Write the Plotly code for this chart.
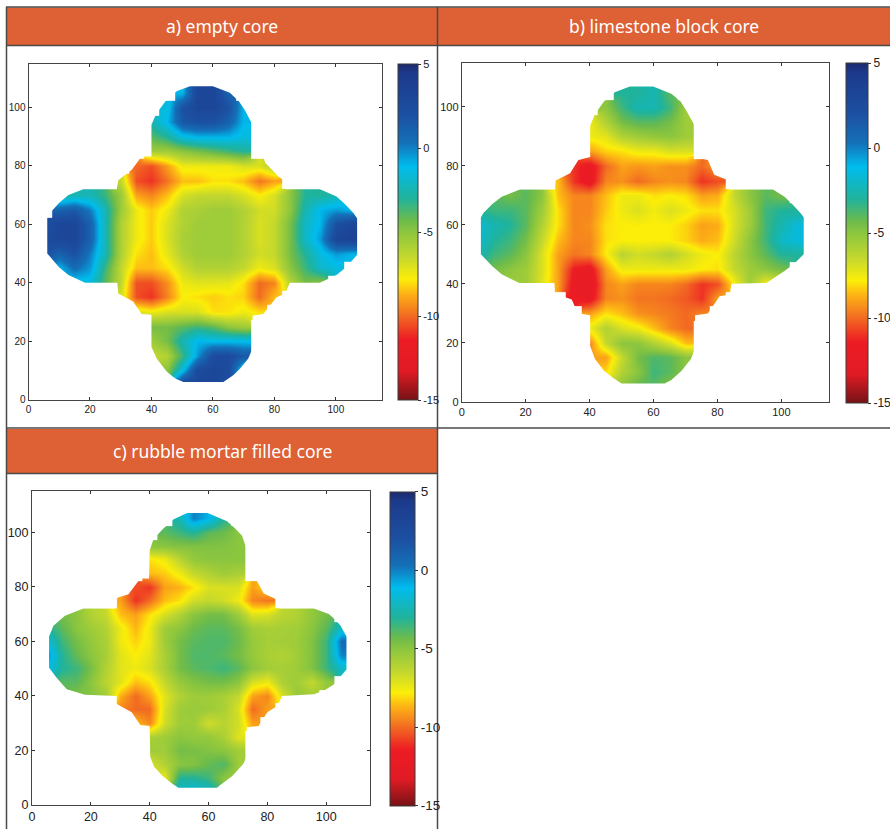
import plotly.graph_objects as go

n = None
GRID = [5, 10, 15, 20, 25, 30, 35, 40, 45, 50, 55, 60, 65, 70, 75, 80, 85, 90, 95, 100, 105, 110]
TICKS = [0, 20, 40, 60, 80, 100]
CBAR_TICKS = [5, 0, -5, -10, -15]
CBAR_TEXT = ["5", "0", "-5", "-10", "-15"]
TITLES = ["a) empty core", "b) limestone block core", "c) rubble mortar filled core"]

# rows run from y=5 up to y=110, columns from x=5 to x=110
Z_A = [
 [n,n,n,n,n,n,n,n,n,3,3,3,2,n,n,n,n,n,n,n,n,n],
 [n,n,n,n,n,n,n,n,-5,-1.5,2.5,3,2.5,-2,n,n,n,n,n,n,n,n],
 [n,n,n,n,n,n,n,-6.5,-6,-3.5,-0.5,2.5,2.5,1.5,n,n,n,n,n,n,n,n],
 [n,n,n,n,n,n,n,-5.5,-4.5,-2.5,-1,-1.2,-1.2,-1.2,n,n,n,n,n,n,n,n],
 [n,n,n,n,n,n,n,-4.5,-4.5,-4,-3.5,-4,-5,-5.5,n,n,n,n,n,n,n,n],
 [n,n,n,n,n,n,-7,-7.5,-7,-7,-7,-8,-8,-7.5,-8,n,n,n,n,n,n,n],
 [n,n,n,n,n,-7,-10.5,-11,-9.5,-7.8,-8,-8.3,-8,-8.2,-10,-8.5,n,n,n,n,n,n],
 [n,n,-1.5,-1.5,-4,-6.5,-10.5,-10.5,-9.3,-7.5,-7.2,-7.2,-7.3,-8,-10,-9.5,-6,-4.5,-5,n,n,n],
 [n,-1,0.5,-0.5,-3.5,-6.5,-8.5,-8.5,-8,-6.8,-6,-6,-6,-6.5,-7.5,-7,-5,-3.5,-2,-1.5,n,n],
 [2,1,2,0,-2.5,-6,-8,-8.5,-7.3,-6,-5.5,-5.5,-5.5,-6,-6.8,-6.5,-4.5,-3,-1.5,-0.5,-1,n],
 [2.5,3,3,1,-2.5,-6,-7.5,-8.3,-7,-5.8,-5.5,-5.5,-5.5,-6,-7,-6.5,-4.5,-2,-0.5,3,3.5,n],
 [2,3,3,1,-2.5,-6,-7.5,-8.3,-7,-6,-5.5,-5.5,-5.5,-6,-7,-6.5,-4.5,-2,-1,2,3,n],
 [n,1,1.5,0,-2.5,-5.5,-7.5,-8.3,-7.5,-6,-5.8,-5.5,-5.5,-6,-6.8,-6.8,-5,-2.5,-1,-0.5,-1,n],
 [n,-3,-2.5,-2.5,-3.5,-5.5,-9,-9.5,-8.5,-7,-6.5,-6.5,-6.5,-7,-7.8,-7,-5,-3,-3,-2.5,n,n],
 [n,n,n,n,n,-6.5,-10.5,-11,-9.8,-8.5,-8.5,-8,-8,-8.5,-9.8,-9,n,n,n,n,n,n],
 [n,n,n,n,n,n,-10,-10.5,-9,-7.5,-7.5,-7.5,-7.5,-7,-7,-6,n,n,n,n,n,n],
 [n,n,n,n,n,n,n,-5.5,-5.5,-5,-4.5,-4,-3.5,-3,n,n,n,n,n,n,n,n],
 [n,n,n,n,n,n,n,-4,-3,-1.5,-1,-1,-1,-1.5,n,n,n,n,n,n,n,n],
 [n,n,n,n,n,n,n,-2.5,-1,1.5,2,2,1,-1,n,n,n,n,n,n,n,n],
 [n,n,n,n,n,n,n,n,-1.5,2,3,3,2,-1,n,n,n,n,n,n,n,n],
 [n,n,n,n,n,n,n,n,n,-1,3,3,1,n,n,n,n,n,n,n,n,n],
 [n,n,n,n,n,n,n,n,n,n,n,n,n,n,n,n,n,n,n,n,n,n],
]
Z_B = [
 [n,n,n,n,n,n,n,n,n,-5,-4,-4,-5,n,n,n,n,n,n,n,n,n],
 [n,n,n,n,n,n,n,n,-8,-6,-5,-3.5,-4,-5,n,n,n,n,n,n,n,n],
 [n,n,n,n,n,n,n,-9,-9,-6.5,-4.5,-3.8,-4,-5,n,n,n,n,n,n,n,n],
 [n,n,n,n,n,n,n,-9.5,-6.5,-5,-5,-6,-7,-8.5,n,n,n,n,n,n,n,n],
 [n,n,n,n,n,n,n,-7.5,-6,-7,-7.5,-8.5,-9.5,-10,n,n,n,n,n,n,n,n],
 [n,n,n,n,n,n,n,-9,-8,-8.5,-9.3,-9.5,-9.7,-10,-9.5,n,n,n,n,n,n,n],
 [n,n,n,n,n,n,-11.5,-12,-9.5,-9.3,-9.8,-9.8,-10,-10.3,-11,-9,n,n,n,n,n,n],
 [n,n,-5.5,-5.5,-7.2,-9,-12,-12.5,-9.5,-9,-9.5,-9.5,-9.5,-10,-11,-10.5,-7.8,-5.5,-7.8,-7,n,n],
 [n,-4.5,-5,-5.5,-7,-9,-11.5,-12,-9,-7.5,-7.5,-7.5,-7.5,-7.5,-7.8,-8,-6.5,-5.5,-5,-4.5,n,n],
 [-2.5,-3.5,-4,-5,-7,-9,-9.8,-9.5,-7.8,-6.2,-6.8,-6.5,-6,-6.8,-7.5,-7.8,-6.3,-5,-4,-3,-3,n],
 [-1.8,-3,-3.5,-4.5,-6.5,-8.5,-9.5,-9.5,-8,-7.8,-7.8,-7.8,-7.8,-8.2,-8.8,-8.5,-6.8,-5,-3.5,-2,-1.5,n],
 [-1.8,-2.5,-3,-4,-6,-8,-9.5,-9.3,-8,-7.8,-7.8,-7.8,-7.8,-8.2,-9,-8.8,-7,-5.5,-3.5,-2.5,-1.5,n],
 [-3,-3.5,-3.5,-4,-5.5,-8,-9.5,-9.5,-8.3,-7.5,-7,-7.6,-7,-7.5,-8,-8,-7,-5.5,-3.5,-3,-3,n],
 [n,-4,-4.5,-4,-5,-8.5,-9.5,-9.5,-8.5,-7.5,-7.5,-8,-7.8,-8,-9,-8.8,-6.5,-5,-4,-4.5,n,n],
 [n,n,n,n,n,-8.5,-11,-12,-9.5,-9.3,-10,-9.5,-9.3,-9.5,-11,-10.5,n,n,n,n,n,n],
 [n,n,n,n,n,n,-11,-12,-10,-9,-9.2,-9,-9.3,-9.3,-10,-9,n,n,n,n,n,n],
 [n,n,n,n,n,n,n,-9,-8.2,-8,-7.5,-7.5,-7,-7,n,n,n,n,n,n,n,n],
 [n,n,n,n,n,n,n,-7.5,-7.2,-6,-5.5,-5.2,-5,-5.5,n,n,n,n,n,n,n,n],
 [n,n,n,n,n,n,n,-7.5,-6,-4.5,-4,-4,-4.5,-5.5,n,n,n,n,n,n,n,n],
 [n,n,n,n,n,n,n,n,-5,-3.5,-2.5,-2.5,-3.5,-5.5,n,n,n,n,n,n,n,n],
 [n,n,n,n,n,n,n,n,n,-3,-3,-2.5,-4,n,n,n,n,n,n,n,n,n],
 [n,n,n,n,n,n,n,n,n,n,n,n,n,n,n,n,n,n,n,n,n,n],
]
Z_C = [
 [n,n,n,n,n,n,n,n,n,-2,-1.5,-2,-4,n,n,n,n,n,n,n,n,n],
 [n,n,n,n,n,n,n,n,-7.5,-3,-3,-3.5,-5,-5.5,n,n,n,n,n,n,n,n],
 [n,n,n,n,n,n,n,-7,-6,-5,-4.8,-4.2,-3.8,-5.5,n,n,n,n,n,n,n,n],
 [n,n,n,n,n,n,n,-5.5,-5.5,-4.5,-4.6,-4.8,-5,-5.6,n,n,n,n,n,n,n,n],
 [n,n,n,n,n,n,n,-5.8,-5.5,-5,-5.2,-5.2,-5.8,-7.2,n,n,n,n,n,n,n,n],
 [n,n,n,n,n,n,-8.5,-9.5,-6.8,-5.5,-5.5,-6.8,-6.2,-6.8,-9,n,n,n,n,n,n,n],
 [n,n,n,n,n,-9.5,-10,-10,-7,-5.5,-5.3,-5.5,-5.8,-7,-10,-9,n,n,n,n,n,n],
 [n,n,-4.8,-4.8,-5.5,-8.8,-10,-9,-7.2,-6,-5.5,-5.5,-5.8,-6.5,-9,-9.5,-7,-5.2,-5.5,n,n,n],
 [n,-4,-4,-5,-6.2,-7.2,-8.5,-8,-6.5,-5.3,-4.8,-4.5,-4.5,-5,-7,-7.5,-5.8,-5.5,-6.5,-5.2,n,n],
 [-1,-3,-3.5,-4.5,-6,-7.2,-7.5,-7,-5.8,-4.5,-4,-3.8,-3.5,-4,-5,-5.6,-5.7,-5.5,-4.8,-3.5,-2,n],
 [0,-3,-4.2,-5,-5.7,-7.2,-7.8,-7.2,-5.8,-4.5,-3.8,-3.8,-4,-4.5,-5.3,-5.8,-6,-5.6,-4.8,-3.5,0,n],
 [-1.5,-3.5,-4.5,-5.2,-5.8,-7.5,-8.2,-7.5,-5.5,-4.5,-4,-3.8,-3.8,-4.3,-5.3,-5.7,-5.6,-5.5,-4.8,-3.5,0.5,n],
 [-3,-4,-5,-5.5,-6,-7.5,-8.6,-7.5,-5.5,-5,-4.3,-4,-4,-4.5,-5.5,-5.8,-5.7,-5.6,-5,-4,-2,n],
 [n,-4.5,-5,-6,-6.5,-8.5,-9,-8,-7,-6,-5,-4.5,-4.5,-5.5,-7.2,-7,-6.2,-6,-5.2,-4.5,n,n],
 [n,n,n,n,n,-9,-11,-10,-8.5,-8,-6.8,-6.5,-6.8,-7.5,-9.5,-9.8,n,n,n,n,n,n],
 [n,n,n,n,n,n,-10.5,-11,-9,-8.7,-8,-7,-7,-7,-9,-8,n,n,n,n,n,n],
 [n,n,n,n,n,n,n,-8.5,-8.3,-7.5,-6.5,-6,-5.5,-5.8,n,n,n,n,n,n,n,n],
 [n,n,n,n,n,n,n,-8,-7.5,-6.2,-5.2,-5,-5,-5,n,n,n,n,n,n,n,n],
 [n,n,n,n,n,n,n,-5,-5,-4.8,-4.8,-4.8,-4.8,-5,n,n,n,n,n,n,n,n],
 [n,n,n,n,n,n,n,n,-4,-3.5,-3,-4,-4.3,-5,n,n,n,n,n,n,n,n],
 [n,n,n,n,n,n,n,n,n,-2.5,0,-1,-3,n,n,n,n,n,n,n,n,n],
 [n,n,n,n,n,n,n,n,n,n,n,n,n,n,n,n,n,n,n,n,n,n],
]

OUTLINE_A = [(52.5,107.2),(60,107.2),(65.5,105),(68.5,102),(70.4,99),(71.9,96),(72.8,94),(72.8,83),(76.4,83),(77,81),(81.3,76.3),(83.7,74.6),(83.7,72),(94.8,72),(100.2,69.5),(103,66.8),(105.7,63.8),(106.9,62),(106.9,49.5),(103.6,45.5),(100.2,42.6),(94.8,40),(85,40),(83.5,36.3),(80.7,35),(76.4,29.3),(72.9,28.7),(72.9,17.5),(71.5,14),(68.8,10.5),(66.6,8.3),(63.4,6),(50.4,6),(47.7,7.2),(45,9.5),(41.7,14),(40,18),(40,29),(36.8,29.3),(34,33.5),(29.2,36.3),(28.9,40),(18.4,40),(13,42.6),(10,45.2),(6.1,50),(6.1,62),(7,63.8),(10,67.3),(13,70),(17.8,72),(28.7,72),(29.2,75),(33.6,78.6),(36.8,83.2),(40,83.2),(40,94),(40.8,96),(41.7,98),(44.5,102),(48.2,105.5)]
OUTLINE_B = [(52.6,106.9),(59.9,106.9),(65.6,104.5),(68.5,101.8),(70.3,98.7),(71.9,95.6),(72.9,93.6),(72.9,83),(77,82),(79,77),(83.9,74.9),(83.9,72),(97.4,72),(101,69.5),(103.6,66.8),(106.3,63.6),(107,62.5),(107,50),(104,46.8),(101,44.3),(95.3,40.3),(84.4,40),(83.9,36.4),(80.7,35.8),(77,29.9),(73,29.3),(73,18),(71.7,14.5),(68.8,10.5),(65.6,7.4),(63.5,6.2),(50,6.2),(47.4,8),(44.5,10.5),(41.7,14.5),(40.2,18.8),(40.2,29.3),(36.4,30),(34.4,34.7),(29.2,36.7),(29,40.3),(18,40.3),(12.5,43.2),(9.5,46),(6,50),(6,62.5),(6.8,64),(9.5,67),(12.5,69.5),(18.2,72),(29.2,72),(29.4,75),(33.9,77.5),(36.5,82),(40.2,83),(40.2,93.6),(41.7,97.6),(44.5,101.8),(47.9,105)]
OUTLINE_C = [(52.7,107),(59.7,107),(66.3,104),(69,101.5),(71.4,98.7),(72.9,94),(72.9,83),(76,83),(78.8,77.5),(83.9,75),(83.9,72),(95.8,72),(100.9,70),(103,68),(104.9,65.7),(106.9,61.8),(106.9,49.7),(104.8,47),(102.6,44.2),(99.3,42),(95.8,40.6),(85,40),(83.5,36.4),(80,34),(77,29),(73,28.5),(72.9,17.6),(71.8,15),(68,10.5),(64,7.3),(62.9,6.3),(49.8,6.3),(47.6,7.9),(44.5,10.5),(41.5,14),(40.2,17.6),(40,29),(36.8,29.3),(33.9,34),(28.8,37),(28.8,40),(18,40.4),(11.8,42.4),(8.5,46.5),(5.8,50.3),(5.8,61.8),(7.3,65.7),(11.2,69.4),(17.5,72),(28.8,72),(29,76),(32.8,77.3),(36.8,83),(39.8,83),(40,93.2),(41.3,97.5),(44.5,101.2),(48,104.7)]

W, H = 890, 829
ZMIN, ZMAX = -15, 5
STOPS = [(5,"#1d2a6f"),(4.4,"#1c3a8c"),(2,"#1c50a2"),(0.3,"#1470b8"),(-1.1,"#00bcee"),(-3,"#20b39c"),(-4.3,"#6cbb4c"),(-5,"#8cc63f"),(-6.5,"#c4d82e"),(-7.8,"#fcee09"),(-8.6,"#fdb714"),(-10,"#f26a22"),(-11.4,"#ed1c24"),(-13.3,"#e01b24"),(-15,"#761216")]
COLORSCALE = [[(v - ZMIN) / (ZMAX - ZMIN), c] for v, c in reversed(STOPS)]

# pixel boxes: axes left, right, top, bottom; colourbar left, right, top, bottom, font size
PANELS = [
    dict(z=Z_A, outline=OUTLINE_A, ax=(28.5, 382, 63.5, 399.5), cb=(398, 418, 64, 400), fs=10),
    dict(z=Z_B, outline=OUTLINE_B, ax=(461.7, 829.3, 62.7, 401.7), cb=(846, 867.5, 62.7, 403), fs=11),
    dict(z=Z_C, outline=OUTLINE_C, ax=(32, 370.3, 491.3, 805), cb=(390, 415, 491.7, 805.7), fs=12.5),
]
HEADERS = [(7, 437, 7.5, 45), (438, 890, 7.5, 45), (7, 437, 429, 473)]
RULES = [(6, 890, 7, 7), (6, 890, 45.5, 45.5), (6, 890, 428, 428), (6, 437, 473.5, 473.5), (6.5, 6.5, 7, 829), (437.5, 437.5, 7, 829)]
RULE_COLOR = "#4a4a4a"
HEADER_COLOR = "#de6035"
FONT = "Liberation Sans, Arial, sans-serif"


def px(x):
    return x / W


def py(y):
    return 1 - y / H


fig = go.Figure()
layout = dict(width=W, height=H, margin=dict(l=0, r=0, t=0, b=0, autoexpand=False), autosize=False,
              paper_bgcolor="white", plot_bgcolor="white", showlegend=False)
shapes, annotations = [], []
for i, p in enumerate(PANELS):
    s = "" if i == 0 else str(i + 1)
    l, r, t, b = p["ax"]
    cl, cr, ct, cb = p["cb"]
    fig.add_trace(go.Heatmap(
        x=GRID, y=GRID, z=p["z"], zmin=ZMIN, zmax=ZMAX, zsmooth="best", colorscale=COLORSCALE,
        xaxis="x" + s, yaxis="y" + s, hoverongaps=False,
        colorbar=dict(x=px(cl), xanchor="left", xref="paper", y=py(cb), yanchor="bottom", yref="paper",
                      thickness=cr - cl, thicknessmode="pixels", len=cb - ct, lenmode="pixels",
                      xpad=0, ypad=0, outlinecolor="#3a3a3a", outlinewidth=1, tickvals=CBAR_TICKS, ticktext=CBAR_TEXT,
                      ticks="outside", ticklen=3, tickcolor="#333", tickfont=dict(family=FONT, size=p["fs"] + 1, color="#222"))))
    common = dict(range=[0, 115], tickvals=TICKS, ticks="inside", ticklen=3, tickcolor="#333", showgrid=False, zeroline=False,
                  showline=True, linecolor="#444", linewidth=1, mirror="ticks",
                  tickfont=dict(family=FONT, size=p["fs"], color="#222"))
    layout["xaxis" + s] = dict(common, domain=[px(l), px(r)], anchor="y" + s)
    layout["yaxis" + s] = dict(common, domain=[py(b), py(t)], anchor="x" + s)
    hole = "M" + " L".join(f"{x},{y}" for x, y in p["outline"]) + " Z"
    shapes.append(dict(type="path", xref="x" + s, yref="y" + s, layer="above", fillrule="evenodd",
                       path=f"M1.5,1.5 L113.5,1.5 L113.5,113.5 L1.5,113.5 Z {hole}", fillcolor="white", line=dict(width=0)))

for (l, r, t, b), title in zip(HEADERS, TITLES):
    shapes.append(dict(type="rect", xref="paper", yref="paper", layer="below", x0=px(l), x1=px(r), y0=py(b), y1=py(t),
                       fillcolor=HEADER_COLOR, line=dict(width=0)))
    annotations.append(dict(text=title, xref="paper", yref="paper", x=px((l + r) / 2), y=py((t + b) / 2),
                            xanchor="center", yanchor="middle", showarrow=False,
                            font=dict(family="Noto Sans", size=17.5, color="white")))
for x0, x1, y0, y1 in RULES:
    shapes.append(dict(type="line", xref="paper", yref="paper", x0=px(x0), x1=px(x1), y0=py(y0), y1=py(y1),
                       line=dict(color=RULE_COLOR, width=1.5)))

layout["shapes"] = shapes
layout["annotations"] = annotations
fig.update_layout(**layout)
fig.write_html("out.html", post_script="document.body.style.margin='0';", config={"displayModeBar": False})
